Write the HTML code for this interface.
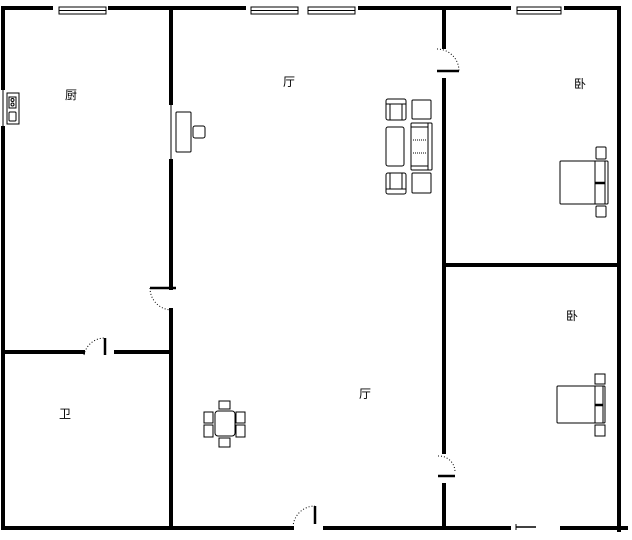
<!DOCTYPE html>
<html><head><meta charset="utf-8"><style>body{margin:0;background:#fff}svg{display:block}text{font-family:"Liberation Sans","Noto Sans CJK SC",sans-serif;font-size:12px}</style></head><body>
<svg width="632" height="540" viewBox="0 0 632 540" xmlns="http://www.w3.org/2000/svg">
<g stroke="#000" stroke-width="4" fill="none" stroke-linecap="square">
<line x1="3" y1="8" x2="51" y2="8"/><line x1="110" y1="8" x2="244" y2="8"/><line x1="360" y1="8" x2="509" y2="8"/><line x1="566" y1="8" x2="619" y2="8"/>
<line x1="3" y1="8" x2="3" y2="88"/><line x1="3" y1="128" x2="3" y2="528"/>
<line x1="619" y1="8" x2="619" y2="530"/>
<line x1="3" y1="528" x2="292" y2="528"/><line x1="325" y1="528" x2="509" y2="528"/><line x1="562" y1="528" x2="626" y2="528"/>
<line x1="171" y1="8" x2="171" y2="103"/><line x1="171" y1="161" x2="171" y2="288"/><line x1="171" y1="310" x2="171" y2="528"/>
<line x1="444" y1="8" x2="444" y2="47"/><line x1="444" y1="80" x2="444" y2="452"/><line x1="444" y1="485" x2="444" y2="528"/>
<line x1="444" y1="265" x2="619" y2="265"/>
<line x1="4" y1="352" x2="83" y2="352"/><line x1="116" y1="352" x2="171" y2="352"/>
</g>
<g stroke="#000" stroke-width="1" fill="none">
<line x1="3" y1="88" x2="3" y2="128"/><line x1="171" y1="103" x2="171" y2="161"/>
<rect x="59" y="7" width="47" height="7" fill="#fff"/><line x1="59" y1="10.5" x2="106" y2="10.5"/>
<rect x="251" y="7" width="47" height="7" fill="#fff"/><line x1="251" y1="10.5" x2="298" y2="10.5"/>
<rect x="308" y="7" width="47" height="7" fill="#fff"/><line x1="308" y1="10.5" x2="355" y2="10.5"/>
<rect x="517" y="7" width="44" height="7" fill="#fff"/><line x1="517" y1="10.5" x2="561" y2="10.5"/>
<path d="M437 49 A22 22 0 0 1 459 71" stroke-dasharray="1,2"/>
<path d="M150 288 A22 22 0 0 0 172 310" stroke-dasharray="1,2"/>
<path d="M84 355 A21 21 0 0 1 105 338" stroke-dasharray="1,2"/>
<path d="M293 527 A22 22 0 0 1 315 506" stroke-dasharray="1,2"/>
<path d="M438 456 A16 16 0 0 1 455 472" stroke-dasharray="1,2"/>
<rect x="7" y="93" width="12" height="31"/><rect x="9" y="97" width="7" height="11"/><circle cx="12.5" cy="100" r="1.5"/><circle cx="12.5" cy="104.5" r="1.5"/><rect x="9" y="112" width="7" height="9" rx="1"/>
<rect x="176" y="112" width="15" height="40" rx="1"/><rect x="193" y="126" width="12" height="12" rx="2"/>
<rect x="386" y="99" width="20" height="21" rx="2"/><line x1="390" y1="104" x2="390" y2="120"/><line x1="402" y1="104" x2="402" y2="120"/><line x1="386" y1="104" x2="406" y2="104"/>
<rect x="412" y="100" width="19" height="19" rx="1"/>
<rect x="386" y="127" width="18" height="39" rx="2"/>
<rect x="411" y="123" width="21" height="47" rx="1"/><line x1="428" y1="123" x2="428" y2="170"/><line x1="411" y1="127" x2="428" y2="127"/><line x1="411" y1="166" x2="428" y2="166"/>
<line x1="413" y1="140" x2="426" y2="140" stroke-dasharray="1,1"/><line x1="413" y1="153" x2="426" y2="153" stroke-dasharray="1,1"/>
<rect x="386" y="173" width="20" height="21" rx="2"/><line x1="390" y1="173" x2="390" y2="189"/><line x1="402" y1="173" x2="402" y2="189"/><line x1="386" y1="189" x2="406" y2="189"/>
<rect x="412" y="173" width="19" height="20" rx="1"/>
<rect x="560" y="161" width="48" height="43" rx="1"/><line x1="595" y1="161" x2="595" y2="204"/><line x1="605" y1="161" x2="605" y2="204"/>
<rect x="596" y="147" width="10" height="12" rx="1"/><rect x="596" y="206" width="10" height="11" rx="1"/>
<rect x="557" y="386" width="48" height="37" rx="1"/><line x1="595" y1="386" x2="595" y2="423"/><line x1="603" y1="386" x2="603" y2="423"/>
<rect x="595" y="374" width="10" height="10"/><rect x="595" y="425" width="10" height="11"/>
<rect x="215" y="411" width="20" height="25" rx="3"/>
<rect x="219" y="401" width="11" height="8"/><rect x="219" y="438" width="11" height="9"/>
<rect x="204" y="412" width="9" height="11"/><rect x="204" y="425" width="9" height="12"/>
<rect x="236" y="412" width="9" height="11"/><rect x="236" y="425" width="9" height="12"/>
<line x1="516" y1="524" x2="516" y2="530"/>
</g>
<g stroke="#000" stroke-width="2.5"><line x1="437" y1="71" x2="459" y2="71"/><line x1="150" y1="288" x2="176" y2="288"/><line x1="105" y1="338" x2="105" y2="355"/><line x1="315" y1="506" x2="315" y2="524"/><line x1="438" y1="476" x2="455" y2="476"/><line x1="595" y1="183" x2="605" y2="183"/><line x1="595" y1="405" x2="603" y2="405"/></g>
<line x1="516" y1="527" x2="536" y2="527" stroke="#000" stroke-width="1.5"/>
<text x="65" y="99">厨</text><text x="283" y="86">厅</text><text x="574" y="88">卧</text><text x="566" y="320">卧</text><text x="359" y="398">厅</text><text x="59" y="418">卫</text>
</svg></body></html>
